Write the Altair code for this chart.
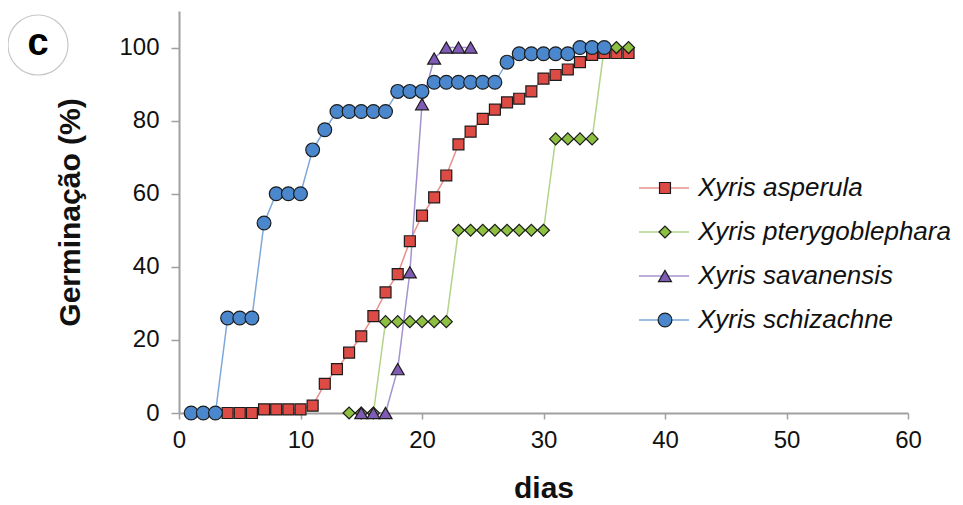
import altair as alt
import pandas as pd

series = ["Xyris asperula", "Xyris pterygoblephara", "Xyris savanensis", "Xyris schizachne"]
point_colors = ["#DE4B45", "#8DC040", "#7F5BB5", "#4A87CC"]
line_colors = ["#E8908C", "#B2D488", "#A493CF", "#7DA8DA"]
edge_colors = ["#1c1c1c", "#1c1c1c", "#1c1c1c", "#1c1c1c"]
shapes = ["square", "diamond", "triangle-up", "circle"]
sizes = [120, 190, 170, 190]

asp_days = list(range(4, 38))
asp_vals = [0, 0, 0, 1, 1, 1, 1, 2, 8, 12, 16.5, 21, 26.5, 33, 38, 47, 54, 59, 65,
            73.5, 77, 80.5, 83, 85, 86, 88, 91.5, 92.5, 94, 96, 98, 98.5, 98.5, 98.5]

pte_days = list(range(14, 38))
pte_vals = [0, 0, 0, 25, 25, 25, 25, 25, 25, 50, 50, 50, 50, 50, 50, 50, 50,
            75, 75, 75, 75, 100, 100, 100]

sav_days = list(range(15, 25))
sav_vals = [0, 0, 0, 12, 38.5, 84.5, 97, 100, 100, 100]

sch_days = list(range(1, 36))
sch_vals = [0, 0, 0, 26, 26, 26, 52, 60, 60, 60, 72, 77.5,
            82.5, 82.5, 82.5, 82.5, 82.5, 88, 88, 88,
            90.5, 90.5, 90.5, 90.5, 90.5, 90.5, 96,
            98.3, 98.3, 98.3, 98.3, 98.3, 100, 100, 100]

x_ticks = [0, 10, 20, 30, 40, 50, 60]
y_ticks = [0, 20, 40, 60, 80, 100]

rows = []
for name, d, v in zip(series, [asp_days, pte_days, sav_days, sch_days],
                      [asp_vals, pte_vals, sav_vals, sch_vals]):
    for di, vi in zip(d, v):
        rows.append({"dia": di, "germ": vi, "especie": name, "linha": name})
df = pd.DataFrame(rows)

FONT = "Liberation Sans"

x = alt.X("dia:Q", scale=alt.Scale(domain=[0, 60], nice=False),
          axis=alt.Axis(values=x_ticks, title="dias", labelFlush=False,
                        tickSize=6, labelPadding=9, titlePadding=21))
y = alt.Y("germ:Q", scale=alt.Scale(domain=[0, 110], nice=False),
          axis=alt.Axis(values=y_ticks, title="Germinação (%)",
                        tickSize=8, labelPadding=12, titlePadding=33))

line_legend = alt.Legend(title=None, orient="none", legendX=459, legendY=151,
                         symbolType="stroke", symbolSize=2500, symbolStrokeWidth=1.5,
                         labelFont=FONT, labelFontSize=26, labelFontStyle="italic",
                         labelColor="#111111", labelOffset=8, rowPadding=5,
                         padding=0, labelLimit=500)
pt_legend = alt.Legend(title=None, orient="none", legendX=473, legendY=164,
                       labelFont=FONT, labelFontSize=26, labelExpr="''",
                       rowPadding=18, padding=0, labelLimit=500,
                       symbolStrokeColor="#1c1c1c", symbolStrokeWidth=1.2,
                       symbolOpacity=1)

lines = alt.Chart(df).mark_line(strokeWidth=1.5).encode(
    x=x, y=y,
    stroke=alt.Stroke("linha:N", scale=alt.Scale(range=line_colors),
                      legend=line_legend),
)

points = alt.Chart(df).mark_point(filled=True, opacity=1, strokeWidth=1.2).encode(
    x=x, y=y,
    fill=alt.Fill("especie:N", scale=alt.Scale(domain=series, range=point_colors),
                  legend=pt_legend),
    stroke=alt.Stroke("especie:N", scale=alt.Scale(domain=series, range=edge_colors),
                      legend=pt_legend),
    shape=alt.Shape("especie:N", scale=alt.Scale(domain=series, range=shapes),
                    legend=pt_legend),
    size=alt.Size("especie:N", scale=alt.Scale(domain=series, range=sizes),
                  legend=pt_legend),
)

lab = pd.DataFrame({"t": ["c"]})
circ = alt.Chart(lab).mark_point(shape="circle", size=3600, filled=False,
                                 stroke="#c8c8c8", strokeWidth=1.2, opacity=1).encode(
    x=alt.value(-141), y=alt.value(34))
ctext = alt.Chart(lab).mark_text(font=FONT, fontSize=38, fontWeight="bold",
                                 align="center", baseline="alphabetic",
                                 color="#000000").encode(
    x=alt.value(-141), y=alt.value(44), text="t:N")

chart = alt.layer(lines, points, circ, ctext).resolve_scale(
    stroke="independent", fill="independent", shape="independent", size="independent"
).resolve_legend(
    stroke="independent", fill="independent", shape="independent", size="independent"
).properties(
    width=729, height=402,
    autosize=alt.AutoSizeParams(type="none"),
    padding={"left": 171, "top": 3, "right": 47, "bottom": 92},
).configure_axis(
    labelFont=FONT, titleFont=FONT, labelFontSize=24, titleFontSize=30,
    titleFontWeight="bold", labelColor="#111111", titleColor="#111111",
    domainColor="#a0a0a0", domainWidth=2, tickColor="#a0a0a0", tickWidth=1.5,
    grid=False,
).configure_view(strokeWidth=0)

chart.save("out.html", embed_options={"renderer": "svg", "actions": False})
